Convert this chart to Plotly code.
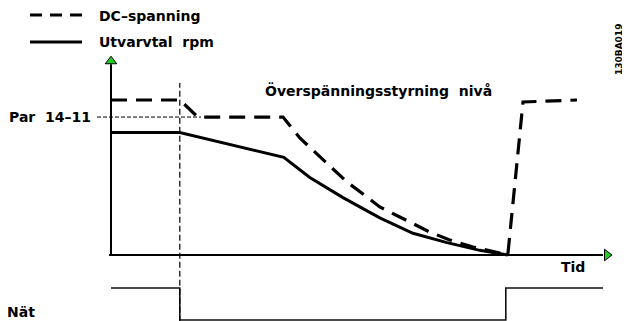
import plotly.graph_objects as go

# Tid (godtyckliga enheter) och kurvornas nivåer
tid_rpm = [0, 1.72, 4.32, 4.97, 5.8, 6.72, 7.55, 8.4, 9.22, 9.92]
utvarvtal = [79, 79, 63, 50, 37, 24, 14, 8, 3, 0]

tid_dc = [0, 1.72, 2.17, 4.3, 4.72, 5.4, 5.9, 6.4, 6.72, 7.22, 7.97, 8.47, 9.05, 9.72, 9.92, 10.3, 11.65]
dc_spanning = [100, 100, 89, 89, 75.5, 59.4, 47.1, 37.4, 31, 24.5, 14.8, 9.7, 5.2, 1.3, 0, 98.7, 100]

tid_nat = [0, 1.72, 9.87, 12.3]
nat = [1, 0, 1, 1]

par_14_11 = 89
natbortfall = 1.72
tid_slut = 12.4
y_topp = 125

FONT = "DejaVu Sans"
svart = "#000000"

# sidan har 8 px marginal runt figuren
W, H, OFF = 622, 313, 8


def px(x):
    return (x - OFF) / W


def py(y):
    return 1 - (y - OFF) / H


fig = go.Figure()

# kurvor
fig.add_trace(go.Scatter(x=tid_dc, y=dc_spanning, mode="lines",
                         line=dict(color=svart, width=3.2, dash="16px,9px")))
fig.add_trace(go.Scatter(x=tid_rpm, y=utvarvtal, mode="lines",
                         line=dict(color=svart, width=3)))
fig.add_trace(go.Scatter(x=tid_nat, y=nat, mode="lines", yaxis="y2",
                         line=dict(color="#111111", width=1.6, shape="hv")))

# pilspetsar på axlarna
fig.add_trace(go.Scatter(x=[0], y=[y_topp], mode="markers",
                         marker=dict(symbol="triangle-up", size=10, color="#22cc22",
                                     line=dict(color=svart, width=1))))
fig.add_trace(go.Scatter(x=[tid_slut], y=[0], mode="markers",
                         marker=dict(symbol="triangle-right", size=10, color="#22cc22",
                                     line=dict(color=svart, width=1))))

shapes = [
    # axlar
    dict(type="line", x0=0, x1=0, y0=0, y1=y_topp - 2, line=dict(color=svart, width=2)),
    dict(type="line", x0=-0.05, x1=tid_slut - 0.1, y0=0, y1=0, line=dict(color=svart, width=2)),
    # Par 14-11 nivå
    dict(type="line", x0=-0.35, x1=2.25, y0=par_14_11, y1=par_14_11,
         line=dict(color=svart, width=1, dash="4px,2px")),
    # nätbortfall
    dict(type="line", x0=natbortfall, x1=natbortfall, y0=-43, y1=111,
         line=dict(color=svart, width=1.2, dash="6px,3px")),
    # teckenförklaring
    dict(type="line", xref="paper", yref="paper", x0=px(30), x1=px(82),
         y0=py(15), y1=py(15), line=dict(color=svart, width=3.2, dash="12px,8px")),
    dict(type="line", xref="paper", yref="paper", x0=px(30), x1=px(82),
         y0=py(42), y1=py(42), line=dict(color=svart, width=3)),
]

txt = dict(family=FONT, size=14, color=svart, weight="bold")
annotations = [
    dict(x=px(97), y=py(16), xref="paper", yref="paper", text="DC–spanning",
         showarrow=False, xanchor="left", yanchor="middle", font=txt),
    dict(x=px(97), y=py(42), xref="paper", yref="paper", text="Utvarvtal  rpm",
         showarrow=False, xanchor="left", yanchor="middle", font=txt),
    dict(x=-0.45, y=par_14_11, text="Par  14–11", showarrow=False,
         xanchor="right", yanchor="middle", font=txt),
    dict(x=3.8, y=106, text="Överspänningsstyrning  nivå", showarrow=False,
         xanchor="left", yanchor="middle", font=txt),
    dict(x=11.55, y=-8, text="Tid", showarrow=False, xanchor="center", yanchor="middle", font=txt),
    dict(x=px(5), y=py(312), xref="paper", yref="paper", text="Nät",
         showarrow=False, xanchor="left", yanchor="middle", font=txt),
    dict(x=px(619), y=py(50), xref="paper", yref="paper", text="130BA019",
         showarrow=False, textangle=-90, xanchor="center", yanchor="middle",
         font=dict(family=FONT, size=9, color=svart, weight="bold")),
]

fig.update_layout(
    width=W, height=H,
    margin=dict(l=0, r=0, t=0, b=0),
    paper_bgcolor="white", plot_bgcolor="white",
    showlegend=False,
    xaxis=dict(range=[-2.575, 12.975], visible=False, fixedrange=True),
    yaxis=dict(range=[-42.58, 159.35], visible=False, fixedrange=True),
    yaxis2=dict(range=[-0.03125, 9.75], overlaying="y", visible=False, fixedrange=True),
    shapes=shapes,
    annotations=annotations,
)

fig.write_html("out.html")
